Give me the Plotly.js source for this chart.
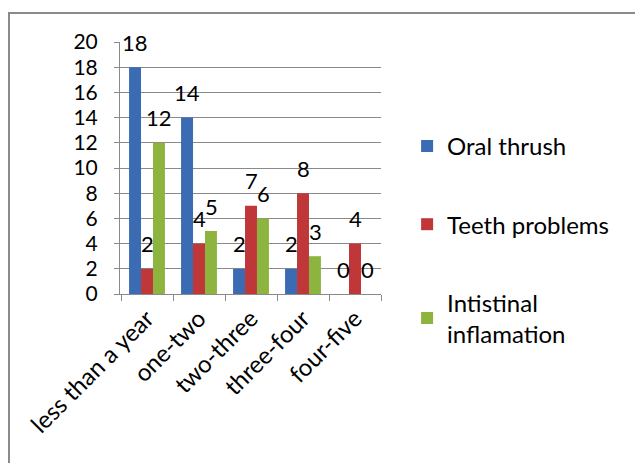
<!DOCTYPE html>
<html>
<head>
<meta charset="utf-8">
<script src="https://cdn.plot.ly/plotly-3.0.1.min.js"></script>
<style>
html,body{margin:0;padding:0;background:#fff;}
#chart{width:635px;height:463px;position:relative;}
#frame{position:absolute;left:8px;top:12px;width:640px;height:470px;border-left:2px solid #8a8a8a;border-top:2px solid #8a8a8a;pointer-events:none;}
</style>
</head>
<body>
<div id="chart"></div>
<div id="frame"></div>
<script>
const categories = ["less than a year", "one-two", "two-three", "three-four", "four-five"];
const seriesNames = ["Oral thrush", "Teeth problems", "Intistinal<br>inflamation"];
const oralThrush = [18, 14, 2, 2, 0];
const teethProblems = [2, 4, 7, 8, 4];
const intestinalInflammation = [12, 5, 6, 3, 0];
const yTicks = [0, 2, 4, 6, 8, 10, 12, 14, 16, 18, 20];

const seriesValues = [oralThrush, teethProblems, intestinalInflammation];
const colors = ["#3B6BB3", "#C0373A", "#8DB43E"];
const FONT = "Lato, 'Open Sans', sans-serif";

const traces = seriesValues.map((vals, i) => ({
  type: "bar",
  x: categories,
  y: vals,
  name: seriesNames[i],
  legendgroup: "g" + i,
  marker: {color: colors[i], line: {width: 0}},
  hoverinfo: "skip"
}));

const annotations = [];
seriesValues.forEach((vals, i) => {
  vals.forEach((v, j) => {
    annotations.push({
      x: categories[j], y: v, xref: "x", yref: "y",
      text: String(v), showarrow: false,
      xshift: (i - 1) * 12, yshift: 25,
      font: {family: FONT, size: 22, color: "#000"}
    });
  });
});

const layout = {
  width: 635, height: 463,
  margin: {l: 120, r: 254, t: 42, b: 169},
  paper_bgcolor: "#fff", plot_bgcolor: "#fff",
  barmode: "group", bargap: 0.31, bargroupgap: 0,
  font: {family: FONT, size: 22, color: "#000"},
  showlegend: true,
  legend: {
    x: 1.10, xanchor: "left", y: 0.675, yanchor: "top",
    font: {family: FONT, size: 24, color: "#000"},
    traceorder: "grouped", tracegroupgap: 44,
    bgcolor: "rgba(0,0,0,0)", itemwidth: 30
  },
  xaxis: {
    type: "category", tickson: "boundaries",
    showline: true, linecolor: "#8a8a8a", linewidth: 1,
    ticks: "outside", ticklen: 6, tickcolor: "#8a8a8a",
    tickangle: -45, showgrid: false,
    tickfont: {family: FONT, size: 24, color: "#000"}
  },
  yaxis: {
    range: [0, 20], tickvals: yTicks, ticktext: yTicks.map(String),
    showline: true, linecolor: "#8a8a8a", linewidth: 1,
    ticks: "outside", ticklen: 5, tickcolor: "#8a8a8a",
    ticklabelstandoff: 12,
    showgrid: true, gridcolor: "#8a8a8a", gridwidth: 1,
    zeroline: false,
    tickfont: {family: FONT, size: 21, color: "#000"}
  },
  annotations: annotations
};

Plotly.newPlot("chart", traces, layout, {displayModeBar: false, staticPlot: true});
</script>
</body>
</html>
